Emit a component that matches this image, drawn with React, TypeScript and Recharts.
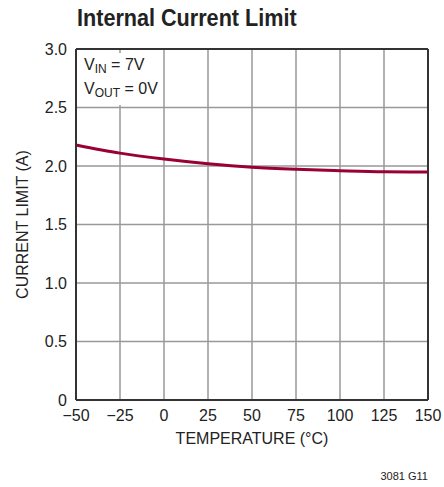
import React from 'react';
import { LineChart, Line, XAxis, YAxis, CartesianGrid, ReferenceLine, Label } from 'recharts';

// temperature (°C) and current limit (A)
const temps = [-50, -25, 0, 25, 50, 75, 100, 125, 150];
const currentLimit = [2.18, 2.11, 2.06, 2.02, 1.99, 1.972, 1.96, 1.951, 1.949];
const xTicks = [-50, -25, 0, 25, 50, 75, 100, 125, 150];
const yTicks = [0, 0.5, 1, 1.5, 2, 2.5, 3];

const FONT = '"Liberation Sans Narrow", "Liberation Sans", Arial, sans-serif';

const data = temps.map((t, i) => ({ temp: t, limit: currentLimit[i] }));

const fmtX = (v: number) => (v < 0 ? `\u2212${Math.abs(v)}` : `${v}`);
const fmtY = (v: number) => (v === 0 ? '0' : v.toFixed(1));

export default function App() {
  const tickStyle = { fontSize: 16, fill: '#222', fontFamily: FONT };
  return (
    <div style={{ position: 'absolute', left: 0, top: 0, width: 444, height: 487, background: '#fff', fontFamily: FONT }}>
      <div
        style={{
          position: 'absolute',
          left: 77,
          top: 4,
          fontSize: 24,
          fontWeight: 'bold',
          color: '#222',
          transform: 'scaleX(0.9)',
          transformOrigin: 'left top',
          whiteSpace: 'nowrap',
        }}
      >
        Internal Current Limit
      </div>
      <LineChart width={444} height={487} data={data} margin={{ top: 49, right: 16, bottom: 57, left: 16 }}>
        <CartesianGrid stroke="#999" strokeWidth={1.5} />
        <XAxis
          dataKey="temp"
          type="number"
          domain={[-50, 150]}
          ticks={xTicks}
          tickFormatter={fmtX}
          height={30}
          tickSize={0}
          tickMargin={10}
          tick={tickStyle}
          stroke="#333"
          strokeWidth={2}
          interval={0}
        >
          <Label value="TEMPERATURE (°C)" position="bottom" offset={3} style={{ fontSize: 16, fill: '#222', fontFamily: FONT }} />
        </XAxis>
        <YAxis
          type="number"
          domain={[0, 3]}
          ticks={yTicks}
          tickFormatter={fmtY}
          width={60}
          tickSize={0}
          tickMargin={9}
          tick={tickStyle}
          stroke="#333"
          strokeWidth={2}
          interval={0}
        >
          <Label
            value="CURRENT LIMIT (A)"
            angle={-90}
            position="insideLeft"
            offset={6}
            style={{ fontSize: 16, fill: '#222', fontFamily: FONT, textAnchor: 'middle' }}
          />
        </YAxis>
        <ReferenceLine y={3} stroke="#333" strokeWidth={2} />
        <ReferenceLine x={150} stroke="#333" strokeWidth={2} />
        <Line
          type="monotone"
          dataKey="limit"
          stroke="#990033"
          strokeWidth={3}
          dot={false}
          isAnimationActive={false}
        />
      </LineChart>
      <div style={{ position: 'absolute', left: 80, top: 53, fontSize: 16, color: '#222', lineHeight: '19px', background: '#fff', padding: '2px 4px' }}>
        <div>V<sub style={{ fontSize: 12, verticalAlign: -3 }}>IN</sub> = 7V</div>
        <div>V<sub style={{ fontSize: 12, verticalAlign: -3 }}>OUT</sub> = 0V</div>
      </div>
      <div style={{ position: 'absolute', right: 16, top: 470, fontSize: 11, color: '#222' }}>3081 G11</div>
    </div>
  );
}
